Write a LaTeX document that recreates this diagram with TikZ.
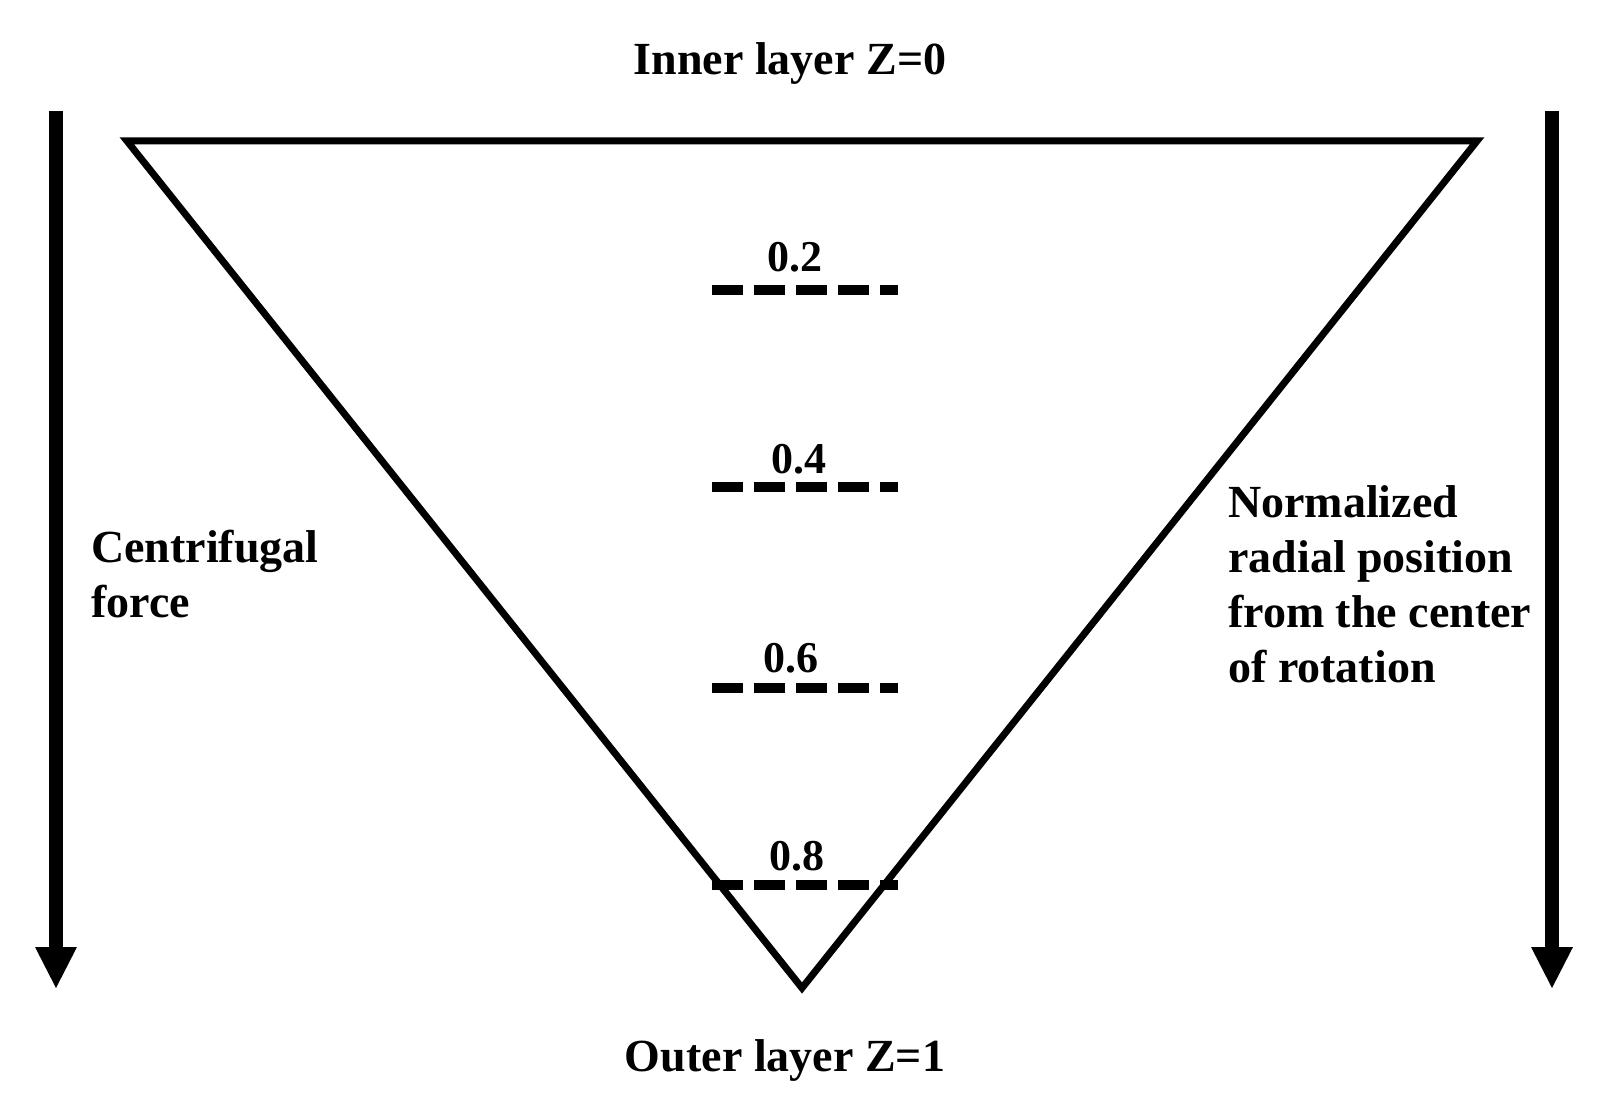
\documentclass[tikz,border=0pt]{standalone}
\usepackage{fontspec}
\setmainfont{Liberation Serif}
\begin{document}
\begin{tikzpicture}[x=1pt,y=-1pt,
  lbl/.style={font=\bfseries\fontsize{46}{55}\selectfont, inner sep=0pt, align=left},
  num/.style={font=\bfseries\fontsize{44}{50}\selectfont, inner sep=0pt, anchor=base},
  level/.style={line width=10pt, dash pattern=on 31pt off 11pt},
  shaft/.style={line width=14pt},
  head/.style={fill=black}]
\useasboundingbox (0,0) rectangle (1617,1107);
% triangle
\coordinate (tl) at (127,141);
\coordinate (tr) at (1477,141);
\coordinate (ap) at (802,988);
\draw[line width=7pt, line join=miter, miter limit=20] (tl) -- (tr) -- (ap) -- cycle;
% arrows
\coordinate (la) at (56,111); \coordinate (lb) at (56,948);
\coordinate (ra) at (1552,111); \coordinate (rb) at (1552,948);
\draw[shaft] (la) -- (lb);
\fill[head] (35,947) -- (77,947) -- (56,988) -- cycle;
\draw[shaft] (ra) -- (rb);
\fill[head] (1531,947) -- (1573,947) -- (1552,988) -- cycle;
% levels
\foreach \i/\yy/\lx/\ly/\t in {a/290/795/272/0.2, b/487/799/473/0.4, c/688/791/672/0.6, d/885/797/870/0.8}{
  \coordinate (s\i) at (712,\yy); \coordinate (e\i) at (898,\yy);
  \draw[level] (s\i) -- (e\i);
  \node[num] (n\i) at (\lx,\ly) {\t};
}
% texts
\node[lbl, anchor=base] (inner) at (790,75) {Inner layer Z=0};
\node[lbl, anchor=base] (outer) at (785,1071) {Outer layer Z=1};
\node[lbl, anchor=base west] (cf) at (91,617) {Centrifugal\\force};
\node[lbl, anchor=base west] (nr) at (1228,682) {Normalized\\radial position\\from the center\\of rotation};
\end{tikzpicture}
\end{document}
